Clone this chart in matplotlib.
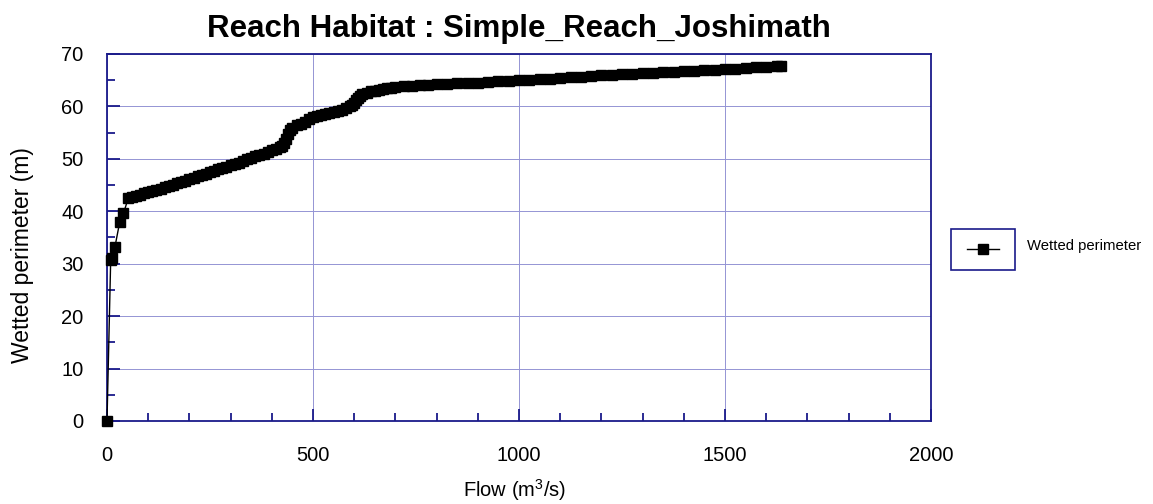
import matplotlib
matplotlib.use("Agg")
import matplotlib.pyplot as plt
from matplotlib.ticker import MultipleLocator

plt.rcParams['font.family'] = ['Liberation Sans', 'DejaVu Sans']
plt.rcParams['mathtext.default'] = 'regular'

# flow (m3/s) vs wetted perimeter (m) for the reach
flow = [0, 9, 13, 19, 31, 40, 52,
        60, 70, 80, 90, 100, 110, 120, 130, 140, 150, 160, 170, 180, 190,
        200, 210, 220, 230, 240, 250, 260, 270, 280, 290, 300, 310, 320,
        330, 340, 350, 360, 370, 380, 390, 400, 410, 420,
        425, 430, 435, 440, 445, 450, 460, 470, 480, 490, 500, 510, 520,
        530, 540, 550, 560, 570, 580, 590, 595, 600, 605, 610, 615, 620,
        630, 640, 650, 660, 670, 680, 690, 700, 720, 740, 760, 780, 800,
        825, 850, 875, 900, 925, 950, 975, 1000, 1025, 1050, 1075, 1100,
        1125, 1150, 1175, 1200, 1225, 1250, 1275, 1300, 1325, 1350, 1375,
        1400, 1425, 1450, 1475, 1500, 1525, 1550, 1575, 1600, 1625, 1635]
perimeter = [0.0, 30.8, 31.0, 33.1, 38.0, 39.6, 42.6,
             42.8, 43.0, 43.1, 43.4, 43.6, 43.8, 44.1, 44.3, 44.6, 44.8, 45.1, 45.3, 45.6, 45.8,
             46.1, 46.4, 46.7, 46.9, 47.2, 47.4, 47.7, 48.0, 48.3, 48.5, 48.8, 49.0, 49.3,
             49.6, 49.9, 50.2, 50.5, 50.7, 51.0, 51.3, 51.6, 51.9, 52.2,
             52.5, 53.0, 53.8, 54.8, 55.5, 55.9, 56.4, 56.7, 57.1, 57.6, 58.0, 58.2, 58.4,
             58.6, 58.8, 59.0, 59.2, 59.4, 59.7, 60.0, 60.3, 60.7, 61.2, 61.6, 62.0, 62.3,
             62.6, 62.9, 63.0, 63.2, 63.4, 63.5, 63.6, 63.7, 63.8, 63.9, 64.0, 64.1, 64.2,
             64.3, 64.4, 64.4, 64.5, 64.6, 64.8, 64.9, 65.0, 65.1, 65.2, 65.3, 65.5,
             65.6, 65.7, 65.8, 65.9, 66.0, 66.1, 66.2, 66.3, 66.4, 66.5, 66.6,
             66.7, 66.8, 66.9, 67.0, 67.1, 67.2, 67.4, 67.5, 67.6, 67.7, 67.8]

navy = '#1a1a8a'
grid_col = '#9494d4'

fig = plt.figure(figsize=(11.53, 5.04), dpi=100)
ax = fig.add_axes([0.0928, 0.1647, 0.7147, 0.7282])

line, = ax.plot(flow, perimeter, color='black', lw=1.0, marker='s',
                markersize=7.8, markerfacecolor='black', markeredgecolor='black',
                clip_on=False, zorder=3)

ax.set_xlim(0, 2000)
ax.set_ylim(0, 70)
ax.xaxis.set_major_locator(MultipleLocator(500))
ax.xaxis.set_minor_locator(MultipleLocator(100))
ax.yaxis.set_major_locator(MultipleLocator(10))
ax.yaxis.set_minor_locator(MultipleLocator(5))

ax.grid(True, which='major', color=grid_col, lw=0.7)
ax.set_axisbelow(True)

for s in ax.spines.values():
    s.set_color(navy)
    s.set_linewidth(1.3)

ax.tick_params(which='both', direction='in', color=navy, width=1.3,
               top=False, right=False, labelsize=14.5)
ax.tick_params(which='major', length=9)
ax.tick_params(which='minor', length=6)
ax.tick_params(axis='x', pad=18)
ax.tick_params(axis='y', pad=17)

ax.set_xlabel('Flow (m$^3$/s)', fontsize=14.5)
ax.set_ylabel('Wetted perimeter (m)', fontsize=16.5)
ax.xaxis.set_label_coords(0.495, -0.152)
ax.yaxis.set_label_coords(-0.089, 0.452)

fig.text(0.45, 0.942, 'Reach Habitat : Simple_Reach_Joshimath',
         ha='center', va='center', fontsize=22.5, fontweight='bold')

leg = fig.legend(handles=[line], labels=[''], loc='lower left',
                 bbox_to_anchor=(0.825, 0.464), borderaxespad=0,
                 fontsize=8, handlelength=2.9, handletextpad=0,
                 borderpad=1.4, fancybox=False, framealpha=1)
leg.get_frame().set_edgecolor(navy)
leg.get_frame().set_linewidth(1.2)
fig.text(0.891, 0.512, 'Wetted perimeter', ha='left', va='center', fontsize=10.7)

fig.savefig('out.png', dpi=100)
